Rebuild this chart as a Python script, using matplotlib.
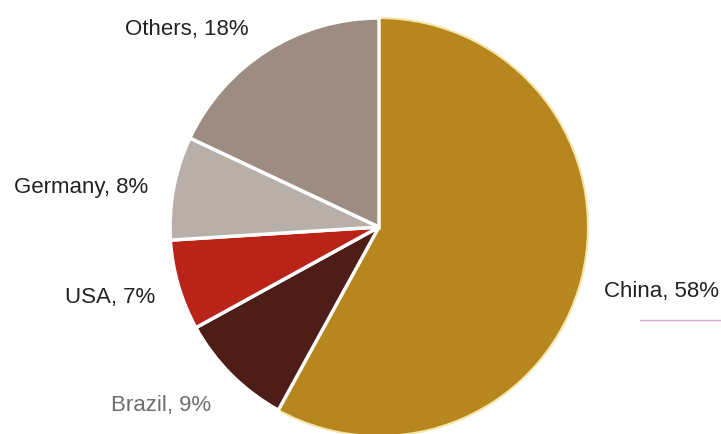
import matplotlib.pyplot as plt

countries = ['China', 'Brazil', 'USA', 'Germany', 'Others']
shares = [58, 9, 7, 8, 18]
colors = ['#B8861F', '#4F1D17', '#B92318', '#B9AFA9', '#9D8C81']
label_pos = [(662, 143), (161, 29), (110, 136), (81, 246), (187, 404)]
label_colors = ['#222222', '#6e6e6e', '#222222', '#222222', '#222222']

plt.rcParams['font.family'] = ['Liberation Sans', 'DejaVu Sans']

fig = plt.figure(figsize=(7.21, 4.34), dpi=100)
ax = fig.add_axes([0, 0, 1, 1])
ax.set_xlim(0, 721)
ax.set_ylim(0, 434)
ax.set_aspect('equal')
ax.axis('off')

wedges, _ = ax.pie(shares, colors=colors, startangle=90, counterclock=False,
                   center=(379, 207), radius=209,
                   wedgeprops=dict(edgecolor='white', linewidth=2.5))
wedges[0].set_edgecolor('#F3E6A8')
wedges[0].set_linewidth(1.5)
wedges[0].set_zorder(0)

ax.set_xlim(0, 721)
ax.set_ylim(0, 434)

for name, val, (x, y), c in zip(countries, shares, label_pos, label_colors):
    ax.text(x, y, f'{name}, {val}%', fontsize=16, color=c, ha='center', va='center')

# thin rule under the China label
ax.plot([640, 721], [114, 114], color='#d9a8dc', lw=1)

fig.savefig('out.png', dpi=100)
